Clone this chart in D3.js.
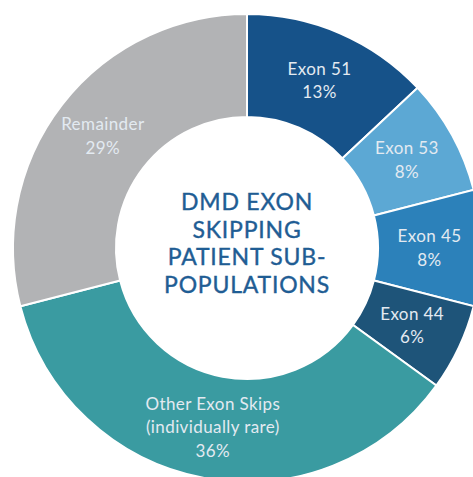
<!DOCTYPE html>
<html>
<head>
<meta charset="utf-8">
<script src="https://d3js.org/d3.v7.min.js"></script>
<style>
  body { margin: 0; background: #fff; }
  svg { display: block; }
</style>
</head>
<body>
<div id="chart"></div>
<script>
// slice data, clockwise from 12 o'clock
var categories = ["Exon 51", "Exon 53", "Exon 45", "Exon 44", "Other Exon Skips|(individually rare)", "Remainder"];
var shares = [13, 8, 8, 6, 36, 29];
var colors = ["#165289", "#5ca8d4", "#2c81ba", "#1e5479", "#3a9ba1", "#b2b3b5"];
var titleLines = ["DMD EXON", "SKIPPING", "PATIENT SUB-", "POPULATIONS"];

var width = 473, height = 477;
var cx = 247, cy = 248;
var outerR = 234, innerR = 131;

var svg = d3.select("#chart")
    .append("svg")
    .attr("width", width)
    .attr("height", height);

var g = svg.append("g")
    .attr("transform", "translate(" + cx + "," + cy + ")");

var slices = categories.map(function(c, i) {
    return {name: c, value: shares[i], color: colors[i]};
});

var pie = d3.pie()
    .value(function(d) { return d.value; })
    .sort(null);

var arc = d3.arc()
    .innerRadius(innerR)
    .outerRadius(outerR);

var arcs = pie(slices);

g.selectAll("path.slice")
    .data(arcs)
    .enter()
    .append("path")
    .attr("class", "slice")
    .attr("d", arc)
    .attr("fill", function(d) { return d.data.color; })
    .attr("stroke", "#fff")
    .attr("stroke-width", 2);

var lineH = 23.5;

var labels = g.selectAll("text.lbl")
    .data(arcs)
    .enter()
    .append("text")
    .attr("class", "lbl")
    .attr("text-anchor", "middle")
    .attr("fill", "#e3eaf1")
    .style("font-family", "Lato, 'Open Sans', sans-serif")
    .style("font-size", "17px")
    .style("letter-spacing", "0.4px")
    .each(function(d) {
        var c = arc.centroid(d);
        var lines = d.data.name.split("|").concat([d.data.value + "%"]);
        var t = d3.select(this);
        var y0 = c[1] - (lines.length - 1) * lineH / 2 + 6;
        lines.forEach(function(l, i) {
            t.append("tspan")
                .attr("x", c[0])
                .attr("y", y0 + i * lineH)
                .text(l);
        });
    });

// centre title, slightly heavier than regular
var title = g.append("text")
    .attr("text-anchor", "middle")
    .attr("fill", "#1f5d94")
    .attr("stroke", "#1f5d94")
    .attr("stroke-width", 0.4)
    .style("font-family", "Lato, 'Open Sans', sans-serif")
    .style("font-size", "23px")
    .style("letter-spacing", "0.8px");

titleLines.forEach(function(l, i) {
    title.append("tspan")
        .attr("x", 0)
        .attr("y", -38 + i * 27.5)
        .text(l);
});
</script>
</body>
</html>
